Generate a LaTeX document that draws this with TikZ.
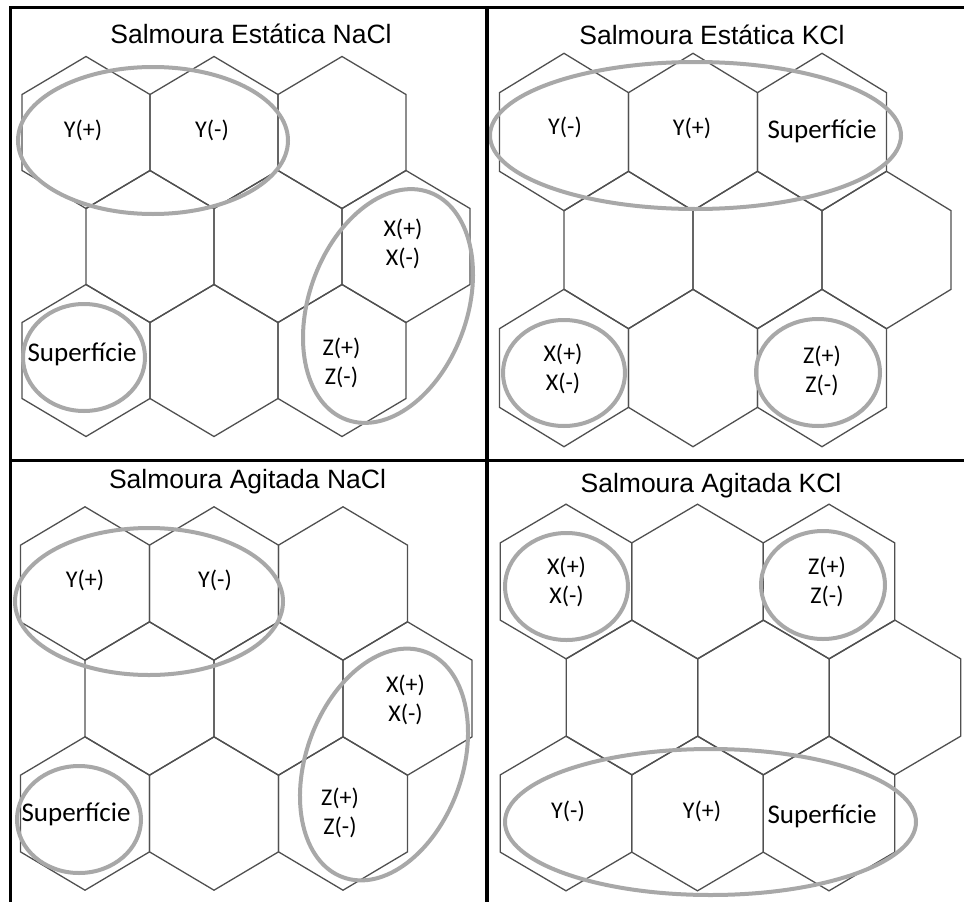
\documentclass[tikz,border=0pt]{standalone}
\usepackage{fontspec}
\setmainfont{Liberation Sans}
\newfontfamily\lblfont{Carlito}
\definecolor{hexgray}{RGB}{80,80,80}
\definecolor{ringgray}{RGB}{168,168,168}
\newcommand\hexcell[4]{\draw[hexline] (#1,#2-#4) -- (#1+#3,#2-#4/2) -- (#1+#3,#2+#4/2) -- (#1,#2+#4) -- (#1-#3,#2+#4/2) -- (#1-#3,#2-#4/2) -- cycle;}
\begin{document}
\begin{tikzpicture}[x=1pt,y=-1pt,
  hexline/.style={draw=hexgray,line width=1.3pt,line join=miter},
  ring/.style={draw=ringgray,line width=4pt},
  frameline/.style={draw=black,line width=3pt},
  ttl/.style={font=\fontsize{26.5}{30}\selectfont,inner sep=0pt,anchor=base},
  lbl/.style={font=\lblfont\fontsize{24}{29}\selectfont,align=center,inner sep=0pt},
  slbl/.style={font=\lblfont\fontsize{27}{30}\selectfont,inner sep=0pt}]
\useasboundingbox[fill=white] (0,0) rectangle (964,902);

% ---------- hex grids ----------
% top-left
\foreach \cx in {86,214,342}{\hexcell{\cx}{132.5}{64}{76}\hexcell{\cx}{360.5}{64}{76}}
\foreach \cx in {150,278,406}{\hexcell{\cx}{246.5}{64}{76}}
% top-right
\foreach \cx in {564,693,822}{\hexcell{\cx}{132}{64.5}{78.7}\hexcell{\cx}{368}{64.5}{78.7}}
\foreach \cx in {628.5,757.5,886.5}{\hexcell{\cx}{250}{64.5}{78.7}}
% bottom-left
\foreach \cx in {85,214,343}{\hexcell{\cx}{583.5}{64.5}{76.7}\hexcell{\cx}{813.5}{64.5}{76.7}}
\foreach \cx in {149.5,278.5,407.5}{\hexcell{\cx}{698.5}{64.5}{76.7}}
% bottom-right
\foreach \cx in {566,697.5,829}{\hexcell{\cx}{581.5}{65.7}{77.3}\hexcell{\cx}{813.5}{65.7}{77.3}}
\foreach \cx in {632,763.5,895}{\hexcell{\cx}{697.5}{65.7}{77.3}}

% ---------- rings ----------
% top-left
\draw[ring] (153,140.5) ellipse [x radius=135, y radius=73.5];
\draw[ring,rotate around={-20:(388,306)}] (388,306) ellipse [x radius=79, y radius=121];
\draw[ring] (84,357.5) ellipse [x radius=61, y radius=53.5];
% top-right
\draw[ring] (695.5,135.5) ellipse [x radius=205.5, y radius=73.5];
\draw[ring] (564,373) ellipse [x radius=61, y radius=53];
\draw[ring] (818,372.5) ellipse [x radius=62, y radius=53.5];
% bottom-left
\draw[ring] (149,601.5) ellipse [x radius=134, y radius=73.5];
\draw[ring,rotate around={-20:(384,764.5)}] (384,764.5) ellipse [x radius=78, y radius=120];
\draw[ring] (79,819.5) ellipse [x radius=62, y radius=53.5];
% bottom-right
\draw[ring] (566.5,586.5) ellipse [x radius=61.5, y radius=53.5];
\draw[ring] (823,585) ellipse [x radius=62, y radius=54];
\draw[ring] (710.5,822) ellipse [x radius=205.5, y radius=73];

% ---------- frame ----------
\draw[frameline] (10,7.5) -- (964,7.5);
\draw[frameline] (10,6) -- (10,902);
\draw[frameline] (10,460) -- (964,460);
\draw[draw=black,line width=4pt] (486.5,6) -- (486.5,902);

% ---------- titles ----------
\node[ttl] (t1) at (251,43) {Salmoura Estática NaCl};
\node[ttl] (t2) at (712,44) {Salmoura Estática KCl};
\node[ttl] (t3) at (247.5,488) {Salmoura Agitada NaCl};
\node[ttl] (t4) at (711,492) {Salmoura Agitada KCl};

% ---------- labels ----------
% top-left
\node[lbl] (a1) at (83,130) {Y(+)};
\node[lbl] (a2) at (212,130) {Y(-)};
\node[lbl] (a3) at (403,244) {X(+)\\X(-)};
\node[lbl] (a4) at (341.5,362.5) {Z(+)\\Z(-)};
\node[slbl] (a5) at (82,354) {Superfície};
% top-right
\node[lbl] (b1) at (565,127) {Y(-)};
\node[lbl] (b2) at (692,128) {Y(+)};
\node[slbl] (b3) at (822,131) {Superfície};
\node[lbl] (b4) at (563,369) {X(+)\\X(-)};
\node[lbl] (b5) at (822,371) {Z(+)\\Z(-)};
% bottom-left
\node[lbl] (c1) at (85,580) {Y(+)};
\node[lbl] (c2) at (215,580) {Y(-)};
\node[lbl] (c3) at (405.5,699.5) {X(+)\\X(-)};
\node[lbl] (c4) at (340,812.5) {Z(+)\\Z(-)};
\node[slbl] (c5) at (76,814) {Superfície};
% bottom-right
\node[lbl] (d1) at (566.5,581.5) {X(+)\\X(-)};
\node[lbl] (d2) at (827,581.5) {Z(+)\\Z(-)};
\node[lbl] (d3) at (568,811) {Y(-)};
\node[lbl] (d4) at (702,811) {Y(+)};
\node[slbl] (d5) at (822,816) {Superfície};
\end{tikzpicture}
\end{document}
